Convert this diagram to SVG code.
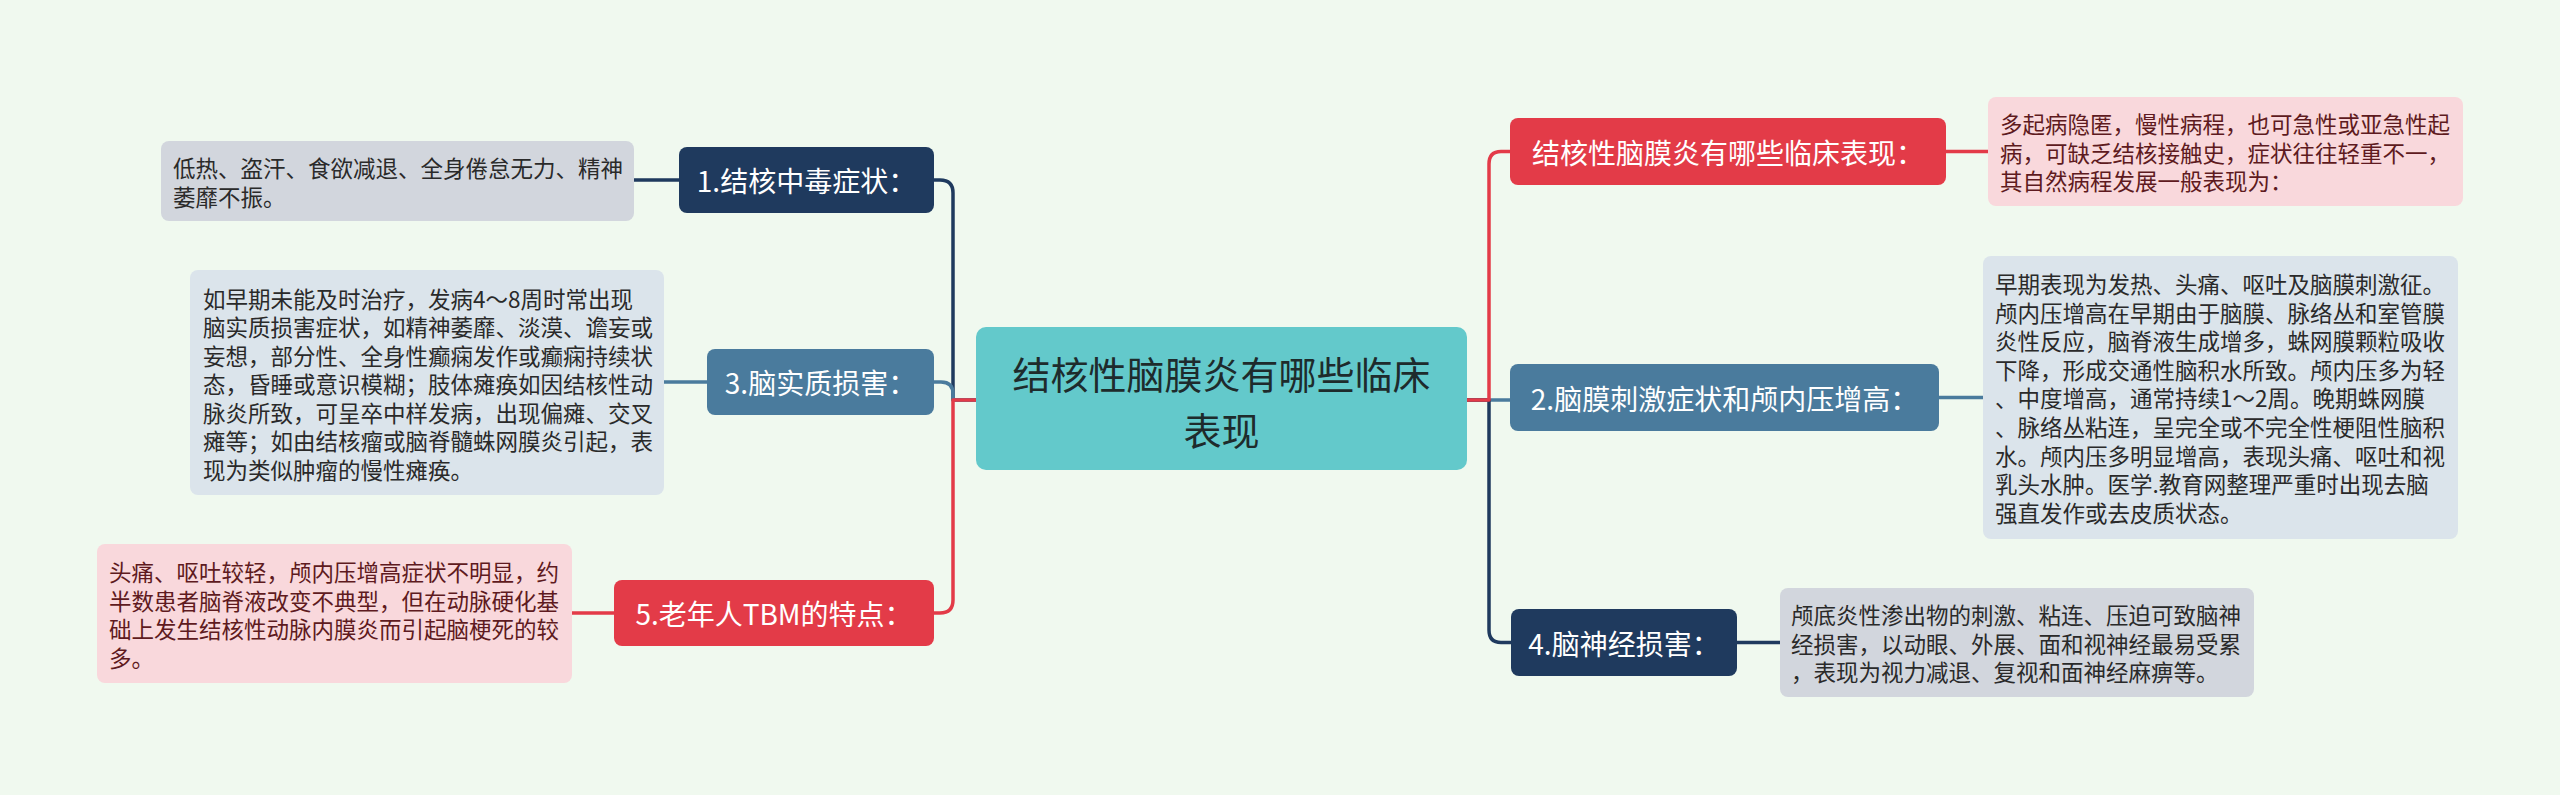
<svg xmlns="http://www.w3.org/2000/svg" width="2560" height="795" viewBox="0 0 2560 795">
<style>
.bg{fill:#f0f9ef}
.cj{font-family:"Noto Sans CJK SC","Liberation Sans",sans-serif}
.leaf{font-size:22.5px}
.node{font-size:28px;fill:#ffffff;text-anchor:middle}
.lt{fill:#2a2a2a}
.lp{fill:#5e1a20}
.navy{fill:#1f3a5e}
.steel{fill:#4a7b9d}
.red{fill:#e33b48}
.gray{fill:#d2d6dd}
.blue{fill:#dbe4eb}
.pink{fill:#f9d8dc}
.c{fill:none;stroke-width:3.5;stroke-linecap:round;stroke-linejoin:round}
.cn{stroke:#1f3a5e}
.cs{stroke:#4a7b9d}
.cr{stroke:#e33b48}
</style>
<rect class="bg" x="0" y="0" width="2560" height="795"/>
<g id="connectors">
<path class="c cn" d="M934,180 H940 Q953,180 953,193 V400 H976"/>
<path class="c cs" d="M934,382 H941 Q953,382 953,394 V400 H976"/>
<path class="c cr" d="M934,613 H940 Q953,613 953,600 V400 H976"/>
<path class="c cs" d="M1467,400 H1510"/>
<path class="c cn" d="M1467,400 H1489 V630 Q1489,642.5 1501,642.5 H1511"/>
<path class="c cr" d="M1467,400 H1489 V164 Q1489,151.5 1501,151.5 H1510"/>
<path class="c cn" d="M634,180 H679"/>
<path class="c cs" d="M664,382 H707"/>
<path class="c cr" d="M572,613 H614"/>
<path class="c cr" d="M1946,151.5 H1988"/>
<path class="c cs" d="M1939,397.5 H1983"/>
<path class="c cn" d="M1737,642.5 H1780"/>
</g>
<g id="central">
<rect x="976" y="327" width="491" height="143" rx="10" fill="#63c9cb"/>
<text class="cj" font-size="38" fill="#1e2b2c" text-anchor="middle" dominant-baseline="central"><tspan x="1221.5" y="372">结核性脑膜炎有哪些临床</tspan><tspan x="1221.5" y="428">表现</tspan></text>
</g>
<g id="node1">
<rect class="navy" x="679" y="147" width="255" height="66" rx="8"/>
<text class="cj node" x="806.5" y="180" dominant-baseline="central">1.结核中毒症状：</text>
</g>
<g id="leaf1">
<rect class="gray" x="161" y="141" width="473" height="80" rx="8"/>
<text class="cj leaf lt" dominant-baseline="central"><tspan x="173" y="166.5">低热、盗汗、食欲减退、全身倦怠无力、精神</tspan><tspan x="173" y="195.5">萎靡不振。</tspan></text>
</g>
<g id="node3">
<rect class="steel" x="707" y="349" width="227" height="66" rx="8"/>
<text class="cj node" x="820.5" y="382" dominant-baseline="central">3.脑实质损害：</text>
</g>
<g id="leaf3">
<rect class="blue" x="190" y="270" width="474" height="225" rx="8"/>
<text class="cj leaf lt" dominant-baseline="central"><tspan x="203" y="297.5">如早期未能及时治疗，发病4～8周时常出现</tspan><tspan x="203" y="326">脑实质损害症状，如精神萎靡、淡漠、谵妄或</tspan><tspan x="203" y="354.5">妄想，部分性、全身性癫痫发作或癫痫持续状</tspan><tspan x="203" y="383">态，昏睡或意识模糊；肢体瘫痪如因结核性动</tspan><tspan x="203" y="411.5">脉炎所致，可呈卒中样发病，出现偏瘫、交叉</tspan><tspan x="203" y="440">瘫等；如由结核瘤或脑脊髓蛛网膜炎引起，表</tspan><tspan x="203" y="468.5">现为类似肿瘤的慢性瘫痪。</tspan></text>
</g>
<g id="node5">
<rect class="red" x="614" y="580" width="320" height="66" rx="8"/>
<text class="cj node" x="774" y="613" dominant-baseline="central">5.老年人TBM的特点：</text>
</g>
<g id="leaf5">
<rect class="pink" x="97" y="544" width="475" height="139" rx="8"/>
<text class="cj leaf lp" dominant-baseline="central"><tspan x="109" y="571">头痛、呕吐较轻，颅内压增高症状不明显，约</tspan><tspan x="109" y="599.5">半数患者脑脊液改变不典型，但在动脉硬化基</tspan><tspan x="109" y="628">础上发生结核性动脉内膜炎而引起脑梗死的较</tspan><tspan x="109" y="656.5">多。</tspan></text>
</g>
<g id="nodeR1">
<rect class="red" x="1510" y="118" width="436" height="67" rx="8"/>
<text class="cj node" x="1728" y="151.5" dominant-baseline="central">结核性脑膜炎有哪些临床表现：</text>
</g>
<g id="leafR1">
<rect class="pink" x="1988" y="97" width="475" height="109" rx="8"/>
<text class="cj leaf lp" dominant-baseline="central"><tspan x="2000" y="123">多起病隐匿，慢性病程，也可急性或亚急性起</tspan><tspan x="2000" y="151.5">病，可缺乏结核接触史，症状往往轻重不一，</tspan><tspan x="2000" y="180">其自然病程发展一般表现为：</tspan></text>
</g>
<g id="node2">
<rect class="steel" x="1510" y="364" width="429" height="67" rx="8"/>
<text class="cj node" x="1724.5" y="397.5" dominant-baseline="central">2.脑膜刺激症状和颅内压增高：</text>
</g>
<g id="leaf2">
<rect class="blue" x="1983" y="256" width="475" height="283" rx="8"/>
<text class="cj leaf lt" dominant-baseline="central"><tspan x="1995" y="283">早期表现为发热、头痛、呕吐及脑膜刺激征。</tspan><tspan x="1995" y="311.6">颅内压增高在早期由于脑膜、脉络丛和室管膜</tspan><tspan x="1995" y="340.2">炎性反应，脑脊液生成增多，蛛网膜颗粒吸收</tspan><tspan x="1995" y="368.8">下降，形成交通性脑积水所致。颅内压多为轻</tspan><tspan x="1995" y="397.4">、中度增高，通常持续1～2周。晚期蛛网膜</tspan><tspan x="1995" y="426">、脉络丛粘连，呈完全或不完全性梗阻性脑积</tspan><tspan x="1995" y="454.6">水。颅内压多明显增高，表现头痛、呕吐和视</tspan><tspan x="1995" y="483.2">乳头水肿。医学.教育网整理严重时出现去脑</tspan><tspan x="1995" y="511.8">强直发作或去皮质状态。</tspan></text>
</g>
<g id="node4">
<rect class="navy" x="1511" y="609" width="226" height="67" rx="8"/>
<text class="cj node" x="1624" y="642.5" dominant-baseline="central">4.脑神经损害：</text>
</g>
<g id="leaf4">
<rect class="gray" x="1780" y="588" width="474" height="109" rx="8"/>
<text class="cj leaf lt" dominant-baseline="central"><tspan x="1791" y="614">颅底炎性渗出物的刺激、粘连、压迫可致脑神</tspan><tspan x="1791" y="642.5">经损害，以动眼、外展、面和视神经最易受累</tspan><tspan x="1791" y="671">，表现为视力减退、复视和面神经麻痹等。</tspan></text>
</g>
</svg>
